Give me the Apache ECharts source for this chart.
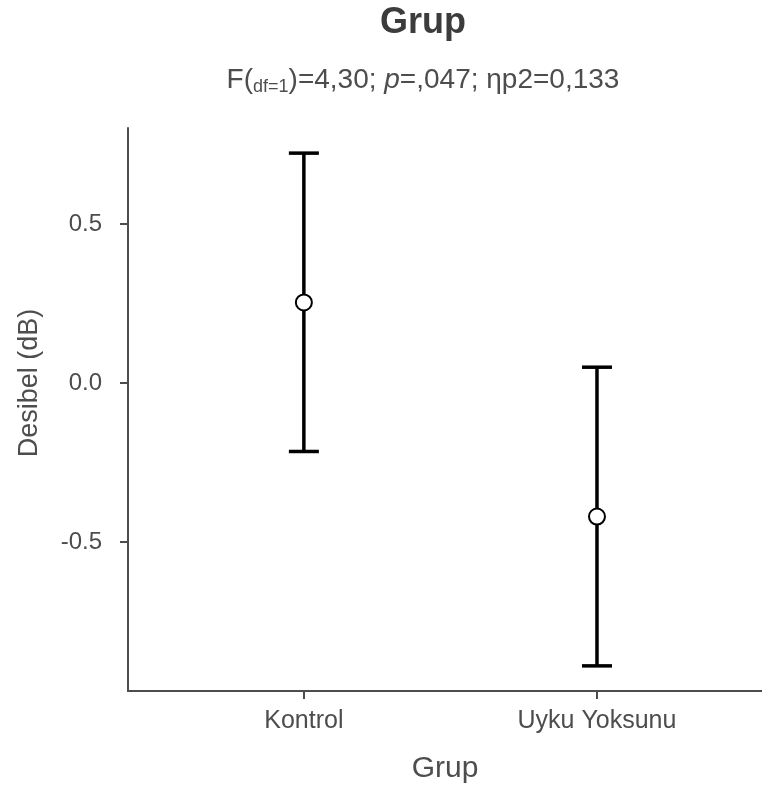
<!DOCTYPE html>
<html>
<head>
<meta charset="utf-8">
<script src="https://cdn.jsdelivr.net/npm/echarts@6/dist/echarts.min.js"></script>
<style>
  html, body { margin: 0; padding: 0; background: #fff; }
  #app { width: 762px; height: 791px; }
</style>
</head>
<body>
<div id="app"></div>
<script>
// gruplar ve ortalama / güven aralığı değerleri
var categories = ['Kontrol', 'Uyku Yoksunu'];
var means = [0.2535, -0.4195];
var lower = [-0.215, -0.889];
var upper = [0.723, 0.050];
var yTicks = [-0.5, 0, 0.5];

var FONT = 'Liberation Sans';
var TXT = '#4d4d4d';

var chart = echarts.init(document.getElementById('app'));

var pointData = categories.map(function (c, i) { return [i + 1, means[i]]; });
var barData = categories.map(function (c, i) { return [i + 1, lower[i], upper[i]]; });

var option = {
    animation: false,
    backgroundColor: '#fff',
    title: [
        {
            text: 'Grup',
            left: 418,
            top: 0,
            textAlign: 'center',
            textStyle: { fontFamily: FONT, fontSize: 36, fontWeight: 'bold', color: '#3c3c3c' }
        },
        {
            text: '{n|F(}{s|df=1}{n|)=4,30; }{i|p}{n|=,047; ηp2=0,133}',
            left: 418,
            top: 59,
            textAlign: 'center',
            textStyle: {
                fontWeight: 'normal',
                rich: {
                    n: { fontFamily: FONT, fontSize: 28, fontWeight: 'normal', color: TXT },
                    s: { fontFamily: FONT, fontSize: 18, fontWeight: 'normal', color: TXT, padding: [14, 0, 0, 0] },
                    i: { fontFamily: FONT, fontSize: 28, fontWeight: 'normal', color: TXT, fontStyle: 'italic' }
                }
            }
        }
    ],
    graphic: [
        {
            type: 'text',
            x: 30,
            y: 383,
            rotation: Math.PI / 2,
            style: {
                text: 'Desibel (dB)',
                fontFamily: FONT, fontSize: 27, fill: TXT,
                align: 'center', verticalAlign: 'middle'
            }
        }
    ],
    grid: { left: 128, top: 128, right: 0, bottom: 100 },
    xAxis: {
        type: 'value',
        min: 0.4,
        max: 2.563,
        name: 'Grup',
        nameLocation: 'middle',
        nameGap: 63,
        nameTextStyle: { fontFamily: FONT, fontSize: 30, color: TXT },
        axisLine: { show: true, onZero: false, lineStyle: { color: '#4d4d4d', width: 2 } },
        axisTick: { show: true, length: 8, customValues: [1, 2], lineStyle: { color: '#4d4d4d', width: 2 } },
        axisLabel: {
            customValues: [1, 2],
            margin: 18,
            fontFamily: FONT, fontSize: 25, color: TXT,
            formatter: function (v) { return categories[Math.round(v) - 1] || ''; }
        },
        splitLine: { show: false }
    },
    yAxis: {
        type: 'value',
        min: -0.968,
        max: 0.802,
        axisLine: { show: true, onZero: false, lineStyle: { color: '#4d4d4d', width: 2 } },
        axisTick: { show: true, length: 8, customValues: yTicks, lineStyle: { color: '#4d4d4d', width: 2 } },
        axisLabel: {
            customValues: yTicks,
            margin: 26,
            fontFamily: FONT, fontSize: 24, color: TXT,
            formatter: function (v) { return v.toFixed(1); }
        },
        splitLine: { show: false }
    },
    series: [
        {
            type: 'custom',
            data: barData,
            encode: { x: 0, y: [1, 2] },
            renderItem: function (params, api) {
                var x = api.value(0);
                var top = api.coord([x, api.value(2)]);
                var bot = api.coord([x, api.value(1)]);
                var half = 15;
                var st = { stroke: '#000', lineWidth: 3.5 };
                return {
                    type: 'group',
                    children: [
                        { type: 'line', shape: { x1: top[0], y1: top[1], x2: bot[0], y2: bot[1] }, style: st },
                        { type: 'line', shape: { x1: top[0] - half, y1: top[1], x2: top[0] + half, y2: top[1] }, style: st },
                        { type: 'line', shape: { x1: bot[0] - half, y1: bot[1], x2: bot[0] + half, y2: bot[1] }, style: st }
                    ]
                };
            },
            z: 2
        },
        {
            type: 'scatter',
            data: pointData,
            symbol: 'circle',
            symbolSize: 16,
            itemStyle: { color: '#fff', borderColor: '#000', borderWidth: 2, opacity: 1 },
            z: 3
        }
    ]
};

chart.setOption(option);
</script>
</body>
</html>
